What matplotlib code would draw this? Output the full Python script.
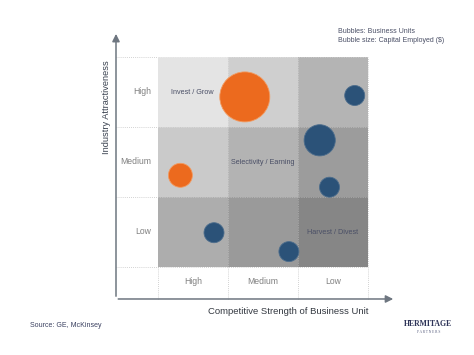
import numpy as np
import matplotlib
matplotlib.use("Agg")
from matplotlib import pyplot as plt
from matplotlib.patches import Circle, Rectangle

plt.rcParams['font.family'] = ['Liberation Sans', 'DejaVu Sans']

# strength columns (left -> right) and attractiveness rows (bottom -> top)
strength_labels = ["High", "Medium", "Low"]
attract_labels = ["Low", "Medium", "High"]

# cell shades, rows bottom -> top
cell_shades = [
  ["#adadad", "#9a9a9a", "#868686"],
  ["#cacaca", "#b3b3b3", "#9c9c9c"],
  ["#e4e4e4", "#cfcfcf", "#b4b4b4"],
]

# business units: position in the 3x3 grid, capital employed, group
unit_x = [1.24, 0.32, 2.81, 2.31, 2.45, 0.80, 1.87]
unit_y = [2.43, 1.31, 2.45, 1.81, 1.14, 0.49, 0.22]
capital = [100, 23, 16, 39, 16, 16, 16]
unit_kind = ["grow", "grow", "hold", "hold", "hold", "hold", "hold"]

zone_text = ["Invest / Grow", "Selectivity / Earning", "Harvest / Divest"]
zone_x = [0.49, 1.5, 2.5]
zone_y = [2.5, 1.5, 0.5]

fig = plt.figure(figsize=(4.74, 3.55), dpi=100)
ax = fig.add_axes([0, 0, 1, 1])
# one grid cell = 70 px
ax.set_xlim(-158/70, (474-158)/70)
ax.set_ylim((267-355)/70, 267/70)
ax.axis('off')

for r in range(3):
  for c in range(3):
    ax.add_patch(Rectangle((c, r), 1, 1, facecolor=cell_shades[r][c], edgecolor='none', zorder=1))

dot = dict(color='#c4c4c4', lw=0.6, ls=(0, (1, 1.5)), zorder=0.5)
x0 = -0.6
y0 = -0.457
for yy in [0, 1, 2, 3]:
  ax.plot([x0, 3], [yy, yy], **dot)
for xx in [0, 1, 2, 3]:
  ax.plot([xx, xx], [y0, 3], **dot)
for yy in [1, 2, 3]:
  ax.plot([0, 3], [yy, yy], color='white', lw=0.5, ls=(0, (1, 1.5)), alpha=0.5, zorder=1.5)
for xx in [1, 2]:
  ax.plot([xx, xx], [0, 3], color='white', lw=0.5, ls=(0, (1, 1.5)), alpha=0.5, zorder=1.5)

# axes with arrows
ax.annotate('', xy=(x0, 3.37), xytext=(x0, y0),
            arrowprops=dict(arrowstyle='-|>', color='#6e7680', lw=1.1, mutation_scale=11))
ax.annotate('', xy=(3.4, y0), xytext=(x0 - 0.008, y0),
            arrowprops=dict(arrowstyle='-|>', color='#6e7680', lw=1.1, mutation_scale=11))

for i, lab in enumerate(attract_labels):
  ax.text(-0.1, i + 0.5, lab, ha='right', va='center', fontsize=6.2, color='#808080')
for i, lab in enumerate(strength_labels):
  ax.text(i + 0.5, -0.21, lab, ha='center', va='center', fontsize=6.2, color='#808080')

for t, zx, zy in zip(zone_text, zone_x, zone_y):
  ax.text(zx, zy, t, ha='center', va='center', fontsize=5.2, color='#4a4f66', zorder=2)

r0 = 0.357
for x, y, cap, kind in zip(unit_x, unit_y, capital, unit_kind):
  rad = r0 * np.sqrt(cap / 100)
  if kind == "grow":
    fc, ec = '#ec6a1e', '#f29a60'
  else:
    fc, ec = '#2b5278', '#4d6d8c'
  ax.add_patch(Circle((x, y), rad, facecolor=fc, edgecolor=ec, lw=0.6, zorder=3))

ax.text(-0.73, 2.29, "Industry Attractiveness", rotation=90, ha='center', va='center',
        fontsize=6.7, color='#3a4250')
ax.text(1.86, -0.63, "Competitive Strength of Business Unit", ha='center', va='center',
        fontsize=6.8, color='#333840')

ax.text(2.57, 3.36, "Bubbles: Business Units", ha='left', va='center', fontsize=5, color='#4a4f66')
ax.text(2.57, 3.24, "Bubble size: Capital Employed ($)", ha='left', va='center', fontsize=5, color='#4a4f66')

ax.text(-1.83, -0.83, "Source: GE, McKinsey", ha='left', va='center', fontsize=5, color='#3a4060')
ax.text(3.86, -0.82, "HERMITAGE", ha='center', va='center', fontsize=5.6, color='#2e3458',
        family=['Liberation Serif', 'DejaVu Serif'], fontweight='bold')
ax.text(3.86, -0.93, "P A R T N E R S", ha='center', va='center', fontsize=2.6, color='#5a6080',
        family=['Liberation Serif', 'DejaVu Serif'])

fig.savefig('out.png', dpi=100, facecolor='white')
